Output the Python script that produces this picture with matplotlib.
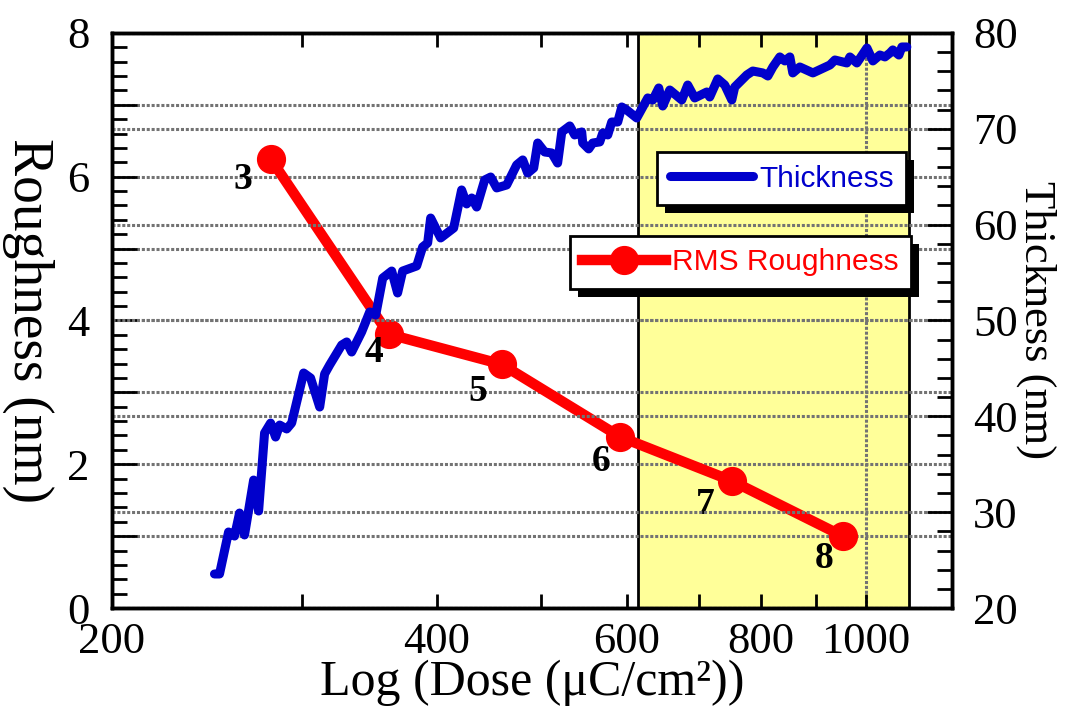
import matplotlib
matplotlib.use('Agg')
import matplotlib.pyplot as plt
from matplotlib.patches import Rectangle
from matplotlib.ticker import FixedLocator, FixedFormatter, MultipleLocator, FuncFormatter

# RMS roughness per sample (dose in uC/cm^2, roughness in nm)
rough_dose = [280.6, 361.0, 459.6, 592.0, 751.0, 952.0]
rough_nm = [6.25, 3.81, 3.39, 2.38, 1.77, 1.00]
rough_tags = ['3', '4', '5', '6', '7', '8']

# thickness trace (dose, nm)
thick_dose = [248.9, 251.6, 256.5, 259.8, 262.6, 265.4, 270.6, 273.5, 277.0, 280.6,
              283.6, 286.1, 290.4, 293.5, 301.1, 305.6, 311.6, 314.9, 318.3, 326.6,
              330.1, 333.6, 340.8, 346.7, 351.2, 356.5, 363.4, 368.0, 372.0, 383.3,
              388.2, 392.4, 394.9, 403.4, 414.8, 421.9, 426.5, 431.1, 435.7, 443.2,
              448.9, 454.7, 464.5, 474.5, 480.7, 485.8, 492.1, 496.3, 503.8, 511.4,
              517.9, 522.5, 531.5, 537.1, 545.2, 546.4, 553.4, 558.2, 566.6, 570.3,
              576.4, 581.3, 588.8, 593.9, 600.3, 613.2, 627.8, 634.6, 642.7, 648.2,
              658.0, 675.1, 683.7, 694.0, 712.1, 716.6, 729.0, 740.0, 751.2, 755.9,
              775.7, 785.6, 802.6, 811.3, 820.0, 832.3, 841.2, 850.3, 855.7, 868.6,
              893.2, 926.3, 936.2, 960.4, 966.6, 981.1, 1002.4, 1015.3, 1030.5, 1041.7,
              1052.9, 1059.4, 1073.2, 1080.1, 1091.6]
thick_nm = [23.55, 23.55, 27.93, 27.51, 29.91, 27.62, 33.35, 30.12, 38.26, 39.30,
            37.84, 39.09, 38.68, 39.30, 44.52, 44.00, 40.97, 44.42, 45.36, 47.44,
            47.76, 46.71, 48.80, 50.89, 50.57, 54.43, 55.16, 52.87, 55.16, 55.69,
            57.67, 58.09, 60.69, 58.61, 59.65, 63.62, 62.16, 62.78, 61.84, 64.66,
            64.97, 63.83, 64.14, 66.23, 66.75, 65.39, 65.91, 68.52, 67.58, 67.48,
            66.43, 69.67, 70.30, 69.36, 69.67, 68.52, 67.90, 68.52, 68.63, 69.56,
            69.36, 70.71, 70.71, 72.28, 71.96, 71.13, 73.22, 73.01, 74.26, 72.38,
            74.05, 73.01, 74.57, 73.22, 73.84, 73.32, 75.20, 74.57, 73.01, 74.36,
            75.62, 76.03, 75.83, 75.51, 76.45, 77.50, 77.08, 77.50, 75.83, 76.45,
            75.83, 76.66, 77.18, 76.87, 77.50, 76.87, 78.43, 77.08, 77.70, 77.50,
            77.91, 78.23, 77.70, 78.54, 78.54]

shade_lo, shade_hi = 615, 1096
x_ticks = [200, 300, 400, 500, 600, 700, 800, 900, 1000]
x_labels = ['200', '', '400', '', '600', '', '800', '', '1000']

serif = 'Liberation Serif'
sans = 'Liberation Sans'
plt.rcParams['font.family'] = serif

fig = plt.figure(figsize=(10.73, 7.06), dpi=100)
ax = fig.add_axes([0.1044, 0.1388, 0.7828, 0.8145])
ax2 = ax.twinx()

grid_kw = dict(color='0.45', linestyle=(0, (1, 0.6)), linewidth=2.2)

ax.axvspan(shade_lo, shade_hi, facecolor='#ffff99', edgecolor='black', linewidth=2, zorder=0)
ax.set_xscale('log')
ax.set_xlim(200, 1202)
ax.set_ylim(0, 8)
ax2.set_ylim(20, 80)

ax.xaxis.set_major_locator(FixedLocator(x_ticks))
ax.xaxis.set_major_formatter(FixedFormatter(x_labels))
ax.xaxis.set_minor_locator(FixedLocator([]))
ax.yaxis.set_major_locator(MultipleLocator(1))
ax.yaxis.set_major_formatter(FuncFormatter(lambda v, p: '%d' % round(v) if round(v) % 2 == 0 else ''))
ax.yaxis.set_minor_locator(MultipleLocator(0.2))
ax2.yaxis.set_major_locator(MultipleLocator(10))
ax2.yaxis.set_minor_locator(MultipleLocator(2))

ax.yaxis.grid(True, **grid_kw, zorder=0.5)
ax2.yaxis.grid(True, **grid_kw)
ax.axvline(1000, **grid_kw, zorder=0.5)

ax.tick_params(axis='x', which='major', direction='in', top=True, length=10, width=2, labelsize=32, pad=10)
ax.tick_params(axis='y', which='major', direction='in', length=18, width=2, labelsize=32, pad=16)
ax.tick_params(axis='y', which='minor', direction='in', length=11, width=2)
ax2.tick_params(axis='y', which='major', direction='in', length=18, width=2, labelsize=32, pad=15)
ax2.tick_params(axis='y', which='minor', direction='in', length=11, width=2)
for a in (ax, ax2):
    for s in a.spines.values():
        s.set_linewidth(2.5)

ax.plot(rough_dose, rough_nm, color='#ff0000', linewidth=7.5, marker='o', markersize=20,
        zorder=3, label='RMS Roughness')
offsets = [(-28, -21), (-15, -18), (-24, -27), (-19, -25), (-26, -24), (-19, -22)]
for xd, yd, t, off in zip(rough_dose, rough_nm, rough_tags, offsets):
    ax.annotate(t, (xd, yd), xytext=off, textcoords='offset pixels', ha='center', va='center',
                fontsize=27, fontweight='bold')

ax2.plot(thick_dose, thick_nm, color='#0000cc', linewidth=6.5, solid_capstyle='round',
         solid_joinstyle='round', label='Thickness')

ax.set_xlabel('Log (Dose (\u03bcC/cm\u00b2))', fontsize=36, labelpad=-2)
ax.set_ylabel('Roughness (nm)', fontsize=40, rotation=-90, va='center')
ax.yaxis.set_label_coords(-0.1, 0.5)
ax2.set_ylabel('Thickness (nm)', fontsize=32, rotation=-90, va='center')
ax2.yaxis.set_label_coords(1.1, 0.5)

leg_kw = dict(prop={'family': sans, 'size': 21.5}, frameon=True, fancybox=False, edgecolor='black',
              framealpha=1, handlelength=2.8, handletextpad=0.2, borderpad=0.42, borderaxespad=0,
              loc='upper left', labelcolor='linecolor')
h1, l1 = ax2.get_legend_handles_labels()
h2, l2 = ax.get_legend_handles_labels()
leg1 = ax2.legend(h1, l1, bbox_to_anchor=(0.649, 0.793), **leg_kw)
leg1.get_frame().set_linewidth(2)
ax2.add_artist(leg1)
leg2 = ax2.legend(h2, l2, bbox_to_anchor=(0.545, 0.647), **leg_kw)
leg2.get_frame().set_linewidth(2)

fig.canvas.draw()
for lg in (leg1, leg2):
    bb = lg.get_window_extent()
    sh = Rectangle((bb.x0 + 8, bb.y0 - 8), bb.width, bb.height, transform=None,
                   facecolor='black', edgecolor='none', zorder=4.5, clip_on=False)
    ax2.add_artist(sh)

fig.savefig('out.png', dpi=100)
